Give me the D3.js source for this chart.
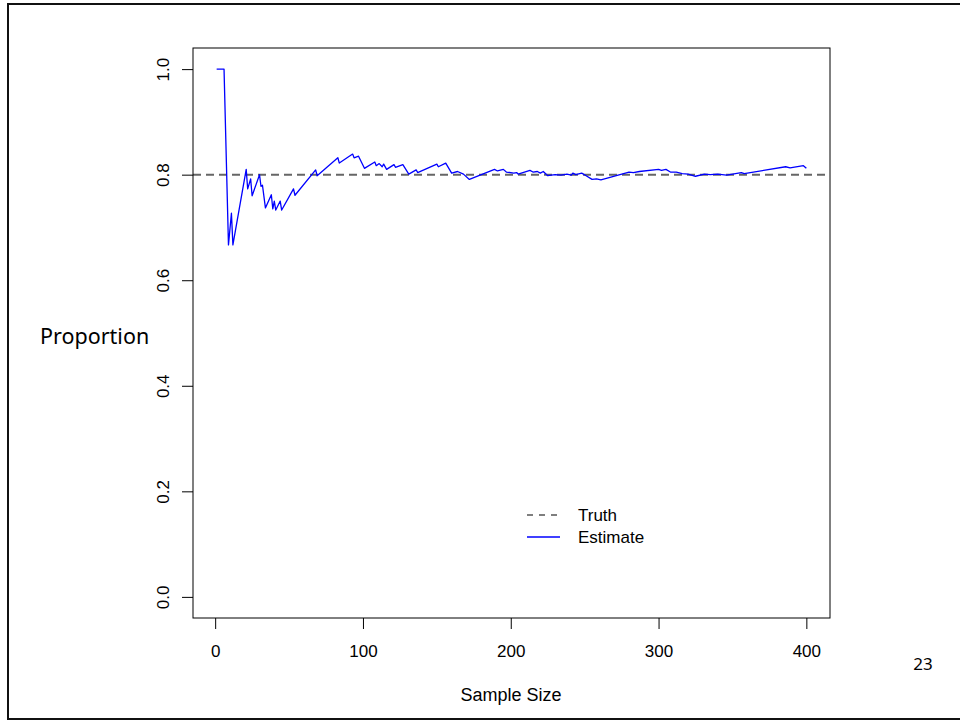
<!DOCTYPE html>
<html>
<head>
<meta charset="utf-8">
<script src="https://cdn.jsdelivr.net/npm/d3@7"></script>
<style>
  body { margin: 0; background: #fff; }
  svg { display: block; }
</style>
</head>
<body>
<div id="chart"></div>
<script>
// Tamaño de la página
const width = 960;
const height = 721;

// Datos: tamano de muestra y proporcion estimada
const sampleSize = [1, 6, 9, 11, 12, 21, 22, 24, 25, 30, 31, 32, 34, 38, 39, 40, 41, 44, 45, 53, 54,
  68, 69, 83, 84, 93, 94, 97, 101, 108, 109, 111, 113, 114, 116, 121, 122, 127, 131, 136, 137,
  150, 151, 156, 160, 164, 168, 172, 189, 191, 195, 197, 202, 204, 205, 213, 215, 218, 220, 222,
  225, 230, 234, 238, 241, 242, 244, 248, 251, 255, 258, 261, 280, 283, 287, 300, 302, 305, 308,
  312, 316, 320, 325, 331, 335, 340, 346, 350, 356, 358, 386, 389, 398, 400];
const estimate = [1.0, 1.0, 0.667, 0.727, 0.667, 0.810, 0.773, 0.792, 0.760, 0.800, 0.778, 0.780,
  0.737, 0.762, 0.735, 0.750, 0.733, 0.750, 0.733, 0.773, 0.761,
  0.809, 0.798, 0.832, 0.822, 0.839, 0.832, 0.835, 0.812, 0.824, 0.817, 0.821, 0.815, 0.820,
  0.810, 0.819, 0.814, 0.819, 0.801, 0.809, 0.804,
  0.820, 0.815, 0.822, 0.803, 0.806, 0.801, 0.791, 0.810, 0.807, 0.810, 0.805, 0.803, 0.804,
  0.801, 0.808, 0.805, 0.806, 0.803, 0.806,
  0.798, 0.800, 0.799, 0.801, 0.799, 0.803, 0.800, 0.803, 0.798, 0.791, 0.792, 0.790, 0.805,
  0.804, 0.806, 0.810, 0.808, 0.810, 0.805,
  0.805, 0.802, 0.801, 0.797, 0.801, 0.800, 0.801, 0.799, 0.801, 0.804, 0.802, 0.815, 0.813,
  0.817, 0.812];
const truth = 0.8;

const xTicks = [0, 100, 200, 300, 400];
const yTicks = [0, 0.2, 0.4, 0.6, 0.8, 1.0];
const legendLabels = ["Truth", "Estimate"];

// Caja del grafico (estilo R)
const box = { left: 193, top: 48, right: 830, bottom: 618 };

const x = d3.scaleLinear().domain([-15, 416]).range([box.left, box.right]);
const y = d3.scaleLinear().domain([-0.04, 1.04]).range([box.bottom, box.top]);

const svg = d3.select("#chart").append("svg")
  .attr("width", width)
  .attr("height", height);

// Marco de la diapositiva
svg.append("rect")
  .attr("x", 8).attr("y", 4)
  .attr("width", 970).attr("height", 715)
  .attr("fill", "none")
  .attr("stroke", "#111")
  .attr("stroke-width", 2);

// Linea de la verdad
svg.append("line")
  .attr("x1", box.left).attr("x2", box.right)
  .attr("y1", y(truth)).attr("y2", y(truth))
  .attr("stroke", "#666")
  .attr("stroke-width", 2)
  .attr("stroke-dasharray", "8,5");

// Linea de la estimacion
const line = d3.line()
  .x((d, i) => x(sampleSize[i]))
  .y(d => y(d));

svg.append("path")
  .datum(estimate)
  .attr("fill", "none")
  .attr("stroke", "#0000ff")
  .attr("stroke-width", 1.3)
  .attr("stroke-linejoin", "round")
  .attr("d", line);

// Caja
svg.append("rect")
  .attr("x", box.left).attr("y", box.top)
  .attr("width", box.right - box.left)
  .attr("height", box.bottom - box.top)
  .attr("fill", "none")
  .attr("stroke", "#000")
  .attr("stroke-width", 1);

// Ejes
const xAxis = svg.append("g")
  .attr("transform", `translate(0,${box.bottom})`)
  .call(d3.axisBottom(x).tickValues(xTicks).tickSize(11).tickPadding(16).tickFormat(d3.format("d")));

const yAxis = svg.append("g")
  .attr("transform", `translate(${box.left},0)`)
  .call(d3.axisLeft(y).tickValues(yTicks).tickSize(11).tickFormat(d3.format(".1f")));

[xAxis, yAxis].forEach(g => {
  g.select(".domain").remove();
  g.selectAll(".tick line").attr("stroke", "#000");
  g.selectAll("text")
    .attr("fill", "#000")
    .style("font-family", "'Liberation Sans', Arial, sans-serif")
    .style("font-size", "17px");
});

yAxis.selectAll(".tick text")
  .attr("x", null).attr("dy", null)
  .attr("text-anchor", "middle")
  .attr("transform", "translate(-30,0) rotate(-90)")
  .attr("dy", "0.35em");

// Titulos de ejes
svg.append("text")
  .attr("x", 511).attr("y", 701)
  .attr("text-anchor", "middle")
  .style("font-family", "'Liberation Sans', Arial, sans-serif")
  .style("font-size", "18px")
  .text("Sample Size");

svg.append("text")
  .attr("x", 40).attr("y", 344)
  .style("font-family", "'Noto Sans', sans-serif")
  .style("font-size", "21.5px")
  .text("Proportion");

// Numero de diapositiva
svg.append("text")
  .attr("x", 923).attr("y", 670)
  .attr("text-anchor", "middle")
  .style("font-family", "'Noto Sans', sans-serif")
  .style("font-size", "17px")
  .text("23");

// Leyenda
const legend = svg.append("g").attr("transform", "translate(527,515)");
legendLabels.forEach((label, i) => {
  const g = legend.append("g").attr("transform", `translate(0,${i * 22})`);
  g.append("line")
    .attr("x1", 0).attr("x2", 33)
    .attr("stroke", i === 0 ? "#555" : "#0000ff")
    .attr("stroke-width", 1.3)
    .attr("stroke-dasharray", i === 0 ? "6,6" : null);
  g.append("text")
    .attr("x", 51).attr("y", 0)
    .attr("dy", "0.35em")
    .style("font-family", "'Liberation Sans', Arial, sans-serif")
    .style("font-size", "17px")
    .text(label);
});
</script>
</body>
</html>
